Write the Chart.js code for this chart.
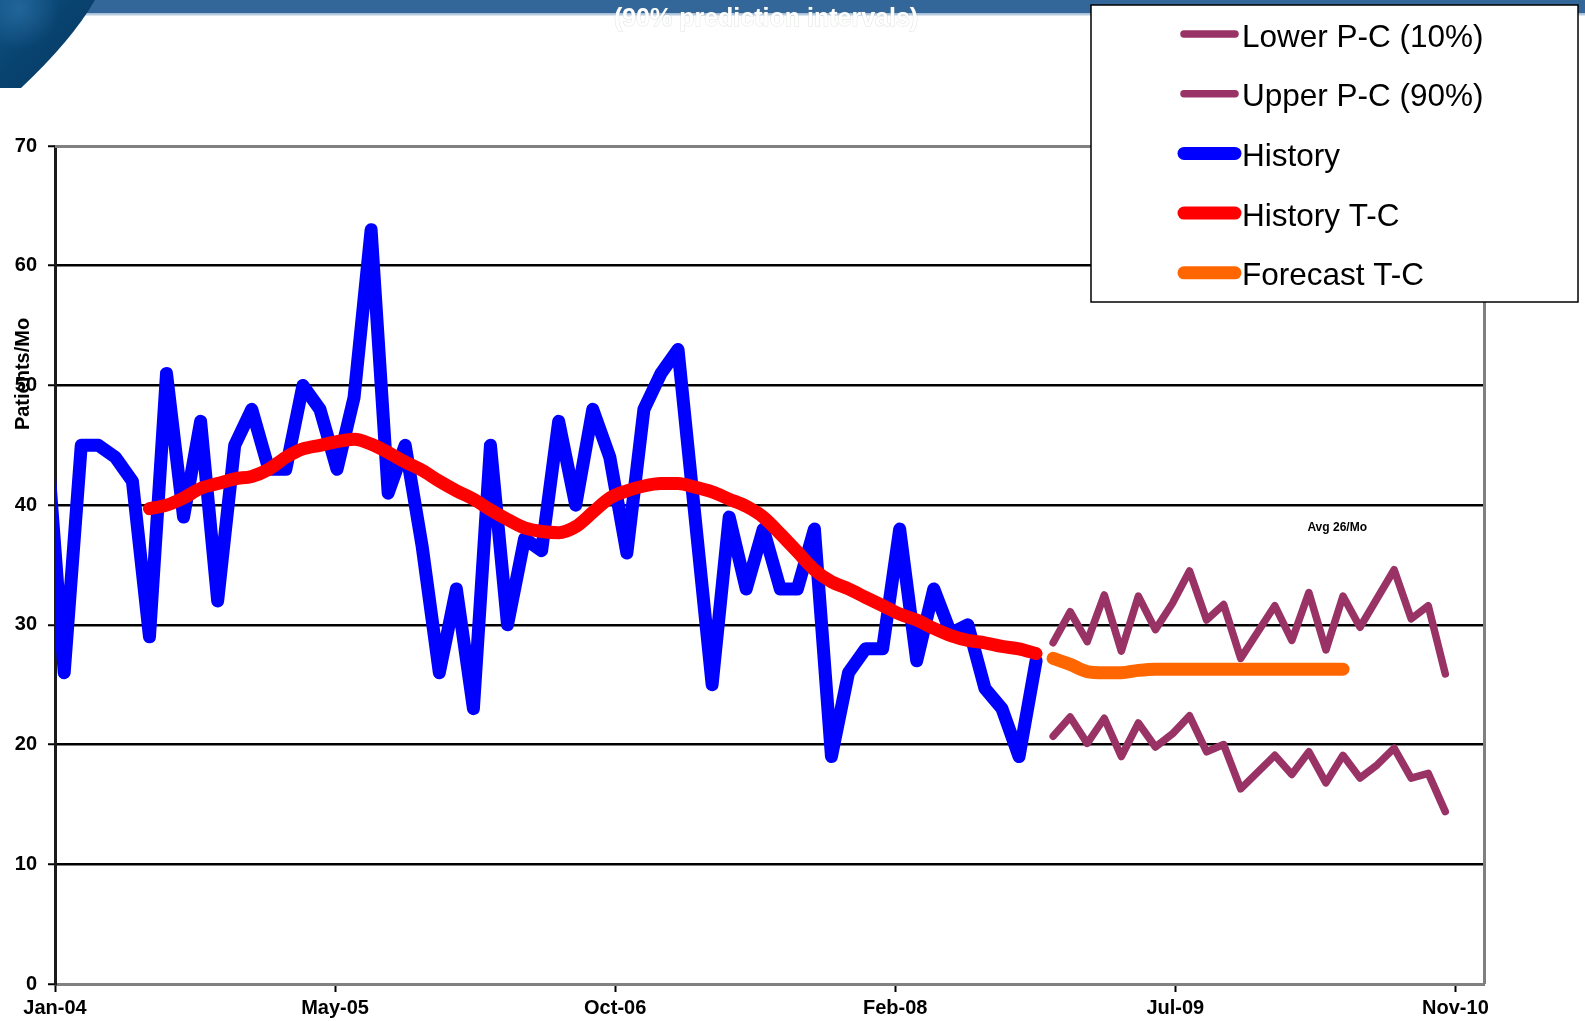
<!DOCTYPE html>
<html>
<head>
<meta charset="utf-8">
<title>Patients per month – history and forecast</title>
<script src="https://cdn.jsdelivr.net/npm/chart.js@4/dist/chart.umd.min.js"></script>
<style>
  html, body { margin: 0; padding: 0; background: #ffffff; }
  #wrap { position: relative; width: 1585px; height: 1021px; overflow: hidden; }
  canvas { display: block; }
</style>
</head>
<body>
<div id="wrap"><canvas id="chart" width="1585" height="1021"></canvas></div>
<script>
// ---- data (monthly, month index 0 = Jan-04) ----
const historyValues = [
  45, 26, 45, 45, 44, 42, 29, 51, 39, 47, 32, 45,
  48, 43, 43, 50, 48, 43, 49, 63, 41, 45, 36.5, 26,
  33, 23, 45, 30, 37.2, 36.2, 47, 40, 48, 44, 36, 48,
  51, 53, 39, 25, 39, 33, 38, 33, 33, 38, 19, 26,
  28, 28, 38, 27, 33, 29.3, 30, 24.7, 23, 19, 27
];                                   // Jan-04 .. Nov-08
const historyTrendValues = [
  39.7, 40.0, 40.6, 41.4, 41.8, 42.2, 42.4, 43.0, 44.0, 44.7,
  45.0, 45.3, 45.5, 45.1, 44.4, 43.6, 42.9, 42.0, 41.2, 40.5,
  39.6, 38.8, 38.1, 37.8, 37.7, 38.2, 39.4, 40.6, 41.2, 41.6,
  41.8, 41.8, 41.5, 41.1, 40.5, 39.9, 39.0, 37.6, 36.1, 34.6,
  33.6, 33.0, 32.3, 31.6, 30.9, 30.4, 29.7, 29.1, 28.7, 28.5,
  28.2, 28.0, 27.6
];                                   // Jul-04 .. Nov-08
const forecastTrendValues = [
  27.2, 26.7, 26.1, 26.0, 26.0, 26.2, 26.3, 26.3, 26.3,
  26.3, 26.3, 26.3, 26.3, 26.3, 26.3, 26.3, 26.3, 26.3
];                                   // Dec-08 .. May-10
const lowerBandValues = [
  20.7, 22.3, 20.1, 22.2, 19.0, 21.8, 19.8, 20.9, 22.4, 19.4, 20.0, 16.3,
  17.7, 19.1, 17.5, 19.4, 16.8, 19.1, 17.2, 18.3, 19.7, 17.2, 17.6, 14.4
];                                   // Dec-08 .. Nov-10
const upperBandValues = [
  28.5, 31.1, 28.6, 32.5, 27.8, 32.4, 29.6, 31.8, 34.5, 30.4, 31.7, 27.2,
  29.4, 31.6, 28.7, 32.7, 27.9, 32.4, 29.8, 32.2, 34.6, 30.5, 31.6, 25.9
];                                   // Dec-08 .. Nov-10

const seriesNames = ['Lower P-C (10%)', 'Upper P-C (90%)', 'History', 'History T-C', 'Forecast T-C'];
const xTickLabels = ['Jan-04', 'May-05', 'Oct-06', 'Feb-08', 'Jul-09', 'Nov-10'];
const yTickValues = [0, 10, 20, 30, 40, 50, 60, 70];
const averageNote = 'Avg 26/Mo';
const chartTitle = '(90% prediction intervals)';
const yAxisTitle = 'Patients/Mo';

// ---- date axis: origin mid-January 2004, a label every 500 days ----
const HISTORY_START = 0;    // Jan-04
const TREND_START = 6;      // Jul-04
const FORECAST_START = 59;  // Dec-08
const DAYS_PER_MONTH = 365.25 / 12;
const LABEL_STEP = 500 / DAYS_PER_MONTH;
const AXIS_END = 2551 / DAYS_PER_MONTH;
const monthToAxis = m => m - 14 / DAYS_PER_MONTH;
const toPoints = (values, start) => values.map((v, i) => ({ x: monthToAxis(start + i), y: v }));

const FONT = "'Liberation Sans', Arial, Helvetica, sans-serif";
const palette = { band: '#993366', history: '#0000ff', trend: '#ff0000', forecast: '#ff6600' };

const lineStyle = {
  pointRadius: 0, pointHoverRadius: 0, fill: false, tension: 0,
  borderJoinStyle: 'round', borderCapStyle: 'round', clip: 0
};
const smoothStyle = { ...lineStyle, cubicInterpolationMode: 'monotone' };

// Banner, globe corner and heading behind the chart
const backdrop = {
  id: 'backdrop',
  beforeDraw(chart) {
    const ctx = chart.ctx;
    ctx.save();
    ctx.fillStyle = '#ffffff';
    ctx.fillRect(0, 0, chart.width, chart.height);
    // heading (white, mostly lost against the page below the banner)
    ctx.font = 'bold 25px ' + FONT;
    ctx.textAlign = 'center';
    ctx.textBaseline = 'alphabetic';
    ctx.fillStyle = '#336699';
    ctx.fillRect(0, 0, chart.width, 13.5);
    ctx.fillStyle = '#b7cbe1';
    ctx.fillRect(0, 13.5, chart.width, 2);
    ctx.strokeStyle = 'rgba(120,140,120,0.25)';
    ctx.lineWidth = 1;
    ctx.strokeText(chartTitle, 766, 26);
    ctx.fillStyle = '#ffffff';
    ctx.fillText(chartTitle, 766, 26);
    // globe corner
    const g = ctx.createLinearGradient(0, 0, 90, 88);
    g.addColorStop(0, '#0f5586');
    g.addColorStop(0.45, '#08426f');
    g.addColorStop(1, '#0a3c66');
    ctx.fillStyle = g;
    ctx.beginPath();
    ctx.moveTo(0, 0);
    ctx.lineTo(95, 0);
    ctx.quadraticCurveTo(72, 40, 21, 88);
    ctx.lineTo(0, 88);
    ctx.closePath();
    ctx.fill();
    const h = ctx.createRadialGradient(20, 10, 2, 20, 10, 40);
    h.addColorStop(0, 'rgba(70,140,200,0.35)');
    h.addColorStop(1, 'rgba(70,140,200,0)');
    ctx.fillStyle = h;
    ctx.fill();
    ctx.restore();
  }
};

// Grey frame on the top and right of the plot area
const plotFrame = {
  id: 'plotFrame',
  beforeDatasetsDraw(chart) {
    const { ctx, chartArea: a } = chart;
    ctx.save();
    ctx.strokeStyle = '#808080';
    ctx.lineWidth = 3;
    ctx.beginPath();
    ctx.moveTo(a.left, a.top + 0.5);
    ctx.lineTo(a.right + 0.5, a.top + 0.5);
    ctx.lineTo(a.right + 0.5, a.bottom);
    ctx.stroke();
    ctx.restore();
  }
};

// Average note, y-axis title and boxed legend
const overlays = {
  id: 'overlays',
  afterDraw(chart) {
    const ctx = chart.ctx;
    const xs = chart.scales.x, ys = chart.scales.y;
    ctx.save();

    ctx.fillStyle = '#000';
    ctx.font = 'bold 12px ' + FONT;
    ctx.textAlign = 'center';
    ctx.textBaseline = 'alphabetic';
    ctx.fillText(averageNote, xs.getPixelForValue(75.2), ys.getPixelForValue(37.8));

    ctx.save();
    ctx.translate(23.5, 374);
    ctx.rotate(-Math.PI / 2);
    ctx.font = 'bold 20px ' + FONT;
    ctx.textAlign = 'center';
    ctx.textBaseline = 'middle';
    ctx.fillText(yAxisTitle, 0, 0);
    ctx.restore();

    const box = { x: 1091, y: 5, w: 487, h: 297 };
    ctx.fillStyle = '#ffffff';
    ctx.fillRect(box.x, box.y, box.w, box.h);
    ctx.strokeStyle = '#000';
    ctx.lineWidth = 1.5;
    ctx.strokeRect(box.x, box.y, box.w, box.h);

    ctx.font = '31.5px ' + FONT;
    ctx.textAlign = 'left';
    ctx.textBaseline = 'alphabetic';
    chart.data.datasets.forEach((ds, i) => {
      const y = 34 + i * 59.7;
      ctx.strokeStyle = ds.borderColor;
      ctx.lineWidth = ds.borderWidth;
      ctx.lineCap = 'round';
      ctx.beginPath();
      ctx.moveTo(1184, y);
      ctx.lineTo(1235, y);
      ctx.stroke();
      ctx.fillStyle = '#000';
      ctx.fillText(ds.label, 1242, y + 12.5);
    });
    ctx.restore();
  }
};

new Chart(document.getElementById('chart'), {
  type: 'line',
  data: {
    datasets: [
      { ...lineStyle, label: seriesNames[0], data: toPoints(lowerBandValues, FORECAST_START), borderColor: palette.band, borderWidth: 7.5, order: 5 },
      { ...lineStyle, label: seriesNames[1], data: toPoints(upperBandValues, FORECAST_START), borderColor: palette.band, borderWidth: 7.5, order: 4 },
      { ...lineStyle, label: seriesNames[2], data: toPoints(historyValues, HISTORY_START), borderColor: palette.history, borderWidth: 13, order: 3 },
      { ...smoothStyle, label: seriesNames[3], data: toPoints(historyTrendValues, TREND_START), borderColor: palette.trend, borderWidth: 13, order: 2 },
      { ...smoothStyle, label: seriesNames[4], data: toPoints(forecastTrendValues, FORECAST_START), borderColor: palette.forecast, borderWidth: 13, order: 1 }
    ]
  },
  options: {
    responsive: false,
    animation: false,
    devicePixelRatio: 1,
    events: [],
    layout: { padding: { left: 0, top: 146, right: 101, bottom: 0 } },
    plugins: { legend: { display: false }, tooltip: { enabled: false }, title: { display: false } },
    scales: {
      x: {
        type: 'linear',
        min: 0,
        max: AXIS_END,
        afterBuildTicks: s => { s.ticks = xTickLabels.map((_, i) => ({ value: i * LABEL_STEP })); },
        afterFit: s => { s.height = 37; },
        ticks: {
          callback: (v, i) => xTickLabels[i],
          font: { family: FONT, size: 20, weight: 'bold' },
          color: '#000', padding: 4, maxRotation: 0, autoSkip: false
        },
        grid: { drawOnChartArea: false, drawTicks: true, tickLength: 8, tickColor: '#000', tickWidth: 2 },
        border: { display: true, color: '#808080', width: 3 }
      },
      y: {
        type: 'linear',
        min: 0,
        max: 70,
        afterBuildTicks: s => { s.ticks = yTickValues.map(v => ({ value: v })); },
        afterFit: s => { s.width = 55; },
        ticks: {
          font: { family: FONT, size: 20, weight: 'bold' },
          color: '#000', padding: 11
        },
        grid: {
          color: c => (c.tick && (c.tick.value === 0 || c.tick.value === 70)) ? 'rgba(0,0,0,0)' : '#000',
          lineWidth: 2.5,
          drawTicks: true, tickLength: 7, tickColor: '#000', tickWidth: 2
        },
        border: { display: true, color: '#1a1a1a', width: 3 }
      }
    }
  },
  plugins: [backdrop, plotFrame, overlays]
});
</script>
</body>
</html>
